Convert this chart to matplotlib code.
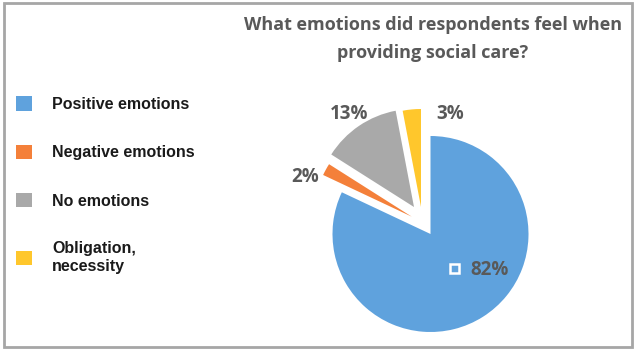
import matplotlib
matplotlib.use("Agg")
import matplotlib.pyplot as plt
from matplotlib.patches import Rectangle

categories = ["Positive emotions", "Negative emotions", "No emotions", "Obligation,\nnecessity"]
values = [82, 2, 13, 3]
colors = ["#5FA2DD", "#F4803A", "#A9A9A9", "#FFC72C"]
pct_labels = ["82%", "2%", "13%", "3%"]
title = "What emotions did respondents feel when\nproviding social care?"

W, H = 639, 352
fig = plt.figure(figsize=(W / 100, H / 100), dpi=100)
ax = fig.add_axes([0, 0, 1, 1])

# pie centre / radius in pixel units
cx, cy, R = 430.5, H - 234, 98
wedges, _ = ax.pie(values, colors=colors, startangle=90, counterclock=False,
                   radius=R, center=(cx, cy),
                   wedgeprops=dict(linewidth=0))
# pulled-out slices (offset of each slice, pixels)
pull = [(0, 0), (-18.7, 17.3), (-16.5, 27), (-9.5, 27)]
for w, (dx, dy) in zip(wedges, pull):
    w.set_center((cx + dx, cy + dy))
ax.set_xlim(0, W)
ax.set_ylim(0, H)
ax.set_aspect("auto")
ax.axis("off")

# percentage labels (offsets from pie centre, in pixels)
offsets = [(59.5, -36), (-125.5, 57), (-81.5, 120), (19.5, 120)]
for lab, (dx, dy) in zip(pct_labels, offsets):
    ax.text(cx + dx, cy + dy, lab, ha="center", va="center",
            fontsize=13.5, fontweight="bold", color="#595959",
            family="Open Sans")
# small white square in front of 82%
ax.add_patch(Rectangle((cx + 19, cy - 39), 9.5, 9.5, fill=False,
                       edgecolor="white", linewidth=1.8))

fig.text(433 / W, 1 - 39 / H, title, ha="center", va="center",
         fontsize=13, fontweight="bold", color="#595959",
         family="Open Sans", linespacing=1.75)

leg = fig.legend(wedges, categories, loc="upper left",
                 bbox_to_anchor=(10 / W, 1 - 90 / H), frameon=False,
                 prop=dict(family="Liberation Sans", weight="bold", size=11.5),
                 handlelength=1.0, handleheight=1.0, handletextpad=1.25,
                 labelspacing=2.05, borderaxespad=0)
for t in leg.get_texts():
    t.set_color("#1a1a1a")

fig.patches.append(Rectangle((3.5 / W, 5 / H), 628.5 / W, 344 / H,
                             transform=fig.transFigure, fill=False,
                             edgecolor="#A6A6A6", linewidth=2))
fig.savefig("out.png", dpi=100)
